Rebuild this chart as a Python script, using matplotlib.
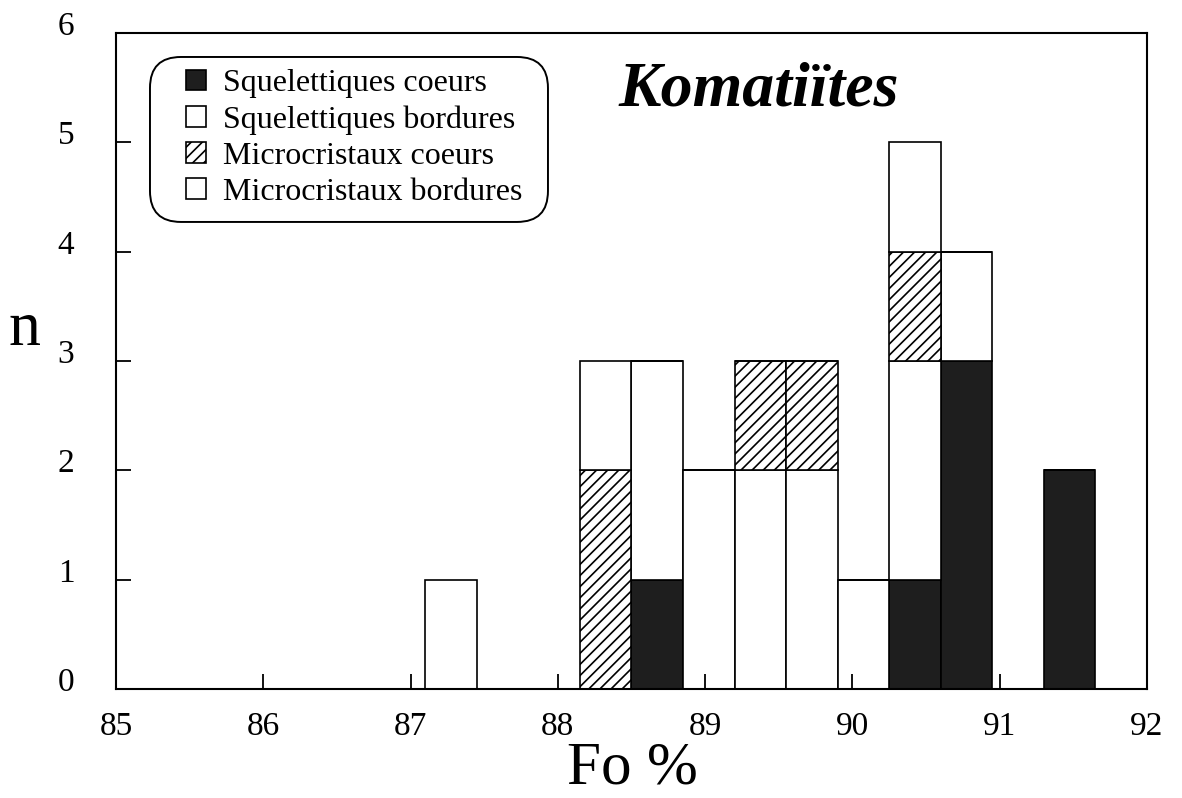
"""
Histogram of olivine Fo % in komatiites (stacked by crystal type).
Writes: out.png
"""

import matplotlib.pyplot as plt
import matplotlib.transforms as mtransforms
from matplotlib.patches import FancyBboxPatch

# ── data ─────────────────────────────────────────────────────────────────────
BIN_LEFT       = [87.10, 88.15, 88.50, 88.85, 89.20, 89.55, 89.90, 90.25, 90.60, 91.30]
BIN_WIDTH      = 0.35
SQ_COEURS      = [0, 0, 1, 0, 0, 0, 0, 1, 3, 2]
SQ_BORDURES    = [0, 0, 2, 2, 2, 2, 1, 2, 1, 0]
MICRO_COEURS   = [0, 2, 0, 0, 1, 1, 0, 1, 0, 0]
MICRO_BORDURES = [1, 1, 0, 0, 0, 0, 0, 1, 0, 0]

SERIES = [
    ("Squelettiques coeurs",   SQ_COEURS,      "#1e1e1e", None),
    ("Squelettiques bordures", SQ_BORDURES,    "white",   None),
    ("Microcristaux coeurs",   MICRO_COEURS,   "white",   "///"),
    ("Microcristaux bordures", MICRO_BORDURES, "white",   None),
]

X_TICKS = [85, 86, 87, 88, 89, 90, 91, 92]
Y_TICKS = [0, 1, 2, 3, 4, 5, 6]

# ── constants ────────────────────────────────────────────────────────────────
FONT = "Liberation Serif"
DPI  = 100


def make_chart():
    plt.rcParams["font.family"] = FONT
    plt.rcParams["hatch.linewidth"] = 1.2

    fig = plt.figure(figsize=(11.82, 7.98), dpi=DPI)
    ax = fig.add_axes([0.0981, 0.1366, 0.8723, 0.822])

    bottom = [0] * len(BIN_LEFT)
    for label, values, color, hatch in SERIES:
        ax.bar(BIN_LEFT, values, width=BIN_WIDTH, bottom=bottom, align="edge",
               color=color, edgecolor="black", linewidth=1.2, hatch=hatch,
               label=label)
        bottom = [b + v for b, v in zip(bottom, values)]

    ax.set_xlim(85, 92)
    ax.set_ylim(0, 6)
    ax.set_xticks(X_TICKS)
    ax.set_yticks(Y_TICKS)
    ax.tick_params(direction="in", length=11, width=1.3, labelsize=24,
                   colors="black")
    ax.tick_params(axis="x", pad=16)
    ax.tick_params(axis="y", pad=30)
    for spine in ax.spines.values():
        spine.set_linewidth(1.5)

    # y labels sit a little above their ticks in the original
    shift = mtransforms.ScaledTranslation(0, 7 / 72, fig.dpi_scale_trans)
    for lab in ax.get_yticklabels():
        lab.set_transform(lab.get_transform() + shift)

    fig.text(632 / 1182, 1 - 783 / 798, "Fo %", fontsize=44,
             ha="center", va="baseline")
    fig.text(25 / 1182, 1 - 330 / 798, "n", fontsize=46,
             ha="center", va="center")

    ax.text(0.623, 0.912, "Komatiïtes", transform=ax.transAxes,
            fontsize=46, fontweight="bold", fontstyle="italic",
            ha="center", va="center")

    # rounded box drawn by hand so the padding can match the original
    aspect = (0.8723 * 1182) / (0.822 * 798)
    box = FancyBboxPatch((0.033, 0.712), 0.386, 0.2515,
                         boxstyle="round,pad=0,rounding_size=0.03",
                         mutation_aspect=aspect, transform=ax.transAxes,
                         facecolor="white", edgecolor="black", linewidth=1.4,
                         zorder=4)
    ax.add_patch(box)

    leg = ax.legend(loc="upper left", bbox_to_anchor=(0.068, 0.945),
                    borderaxespad=0, borderpad=0, fontsize=23,
                    handlelength=0.62, handleheight=0.62, handletextpad=0.55,
                    labelspacing=0.22, frameon=False)
    leg.set_zorder(5)

    fig.savefig("out.png", dpi=DPI)
    plt.close(fig)


if __name__ == "__main__":
    make_chart()
